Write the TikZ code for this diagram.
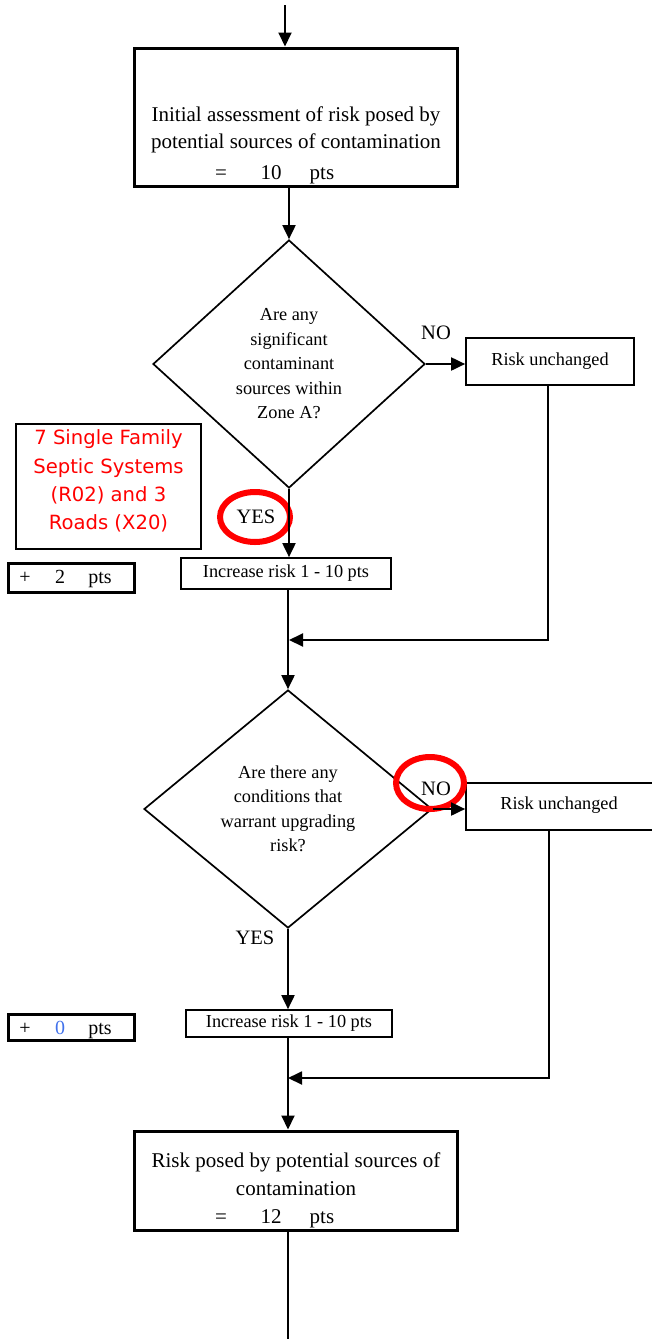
\documentclass[tikz,border=0pt]{standalone}
\usepackage{fontspec}
\setmainfont{Liberation Serif}
\newfontfamily\notesans{DejaVu Sans}
\usetikzlibrary{shapes.geometric,arrows.meta}
\definecolor{notered}{RGB}{255,0,0}
\definecolor{ptsblue}{RGB}{66,114,235}

\begin{document}
\begin{tikzpicture}[x=1pt,y=-1pt,
  line width=1.9pt,
  arr/.style={-{Triangle[length=14pt,width=13pt]}},
  bigbox/.style={draw, line width=3pt, inner sep=0pt},
  smallbox/.style={draw, line width=1.7pt, inner sep=0pt,
    font=\fontsize{18.3}{22}\selectfont},
  ptsbox/.style={draw, line width=3pt, inner sep=0pt},
  decision/.style={draw, diamond, line width=1.7pt, inner sep=0pt, align=center,
    font=\fontsize{18.3}{24.5}\selectfont},
  bigtext/.style={align=center, inner sep=0pt, font=\fontsize{21}{27.5}\selectfont},
  answer/.style={inner sep=0pt, font=\fontsize{20.5}{24}\selectfont},
  ptstext/.style={inner sep=0pt, anchor=base, font=\fontsize{20}{24}\selectfont},
  highlight/.style={draw=notered, line width=6pt, ellipse, inner sep=0pt}
]
\useasboundingbox (0,0) rectangle (652,1339);

% --- initial assessment ---
\coordinate (start) at (285,5);
\node[bigbox, minimum width=323pt, minimum height=138pt] (b1) at (295.5,117) {};
\node[bigtext] (b1t) at (296,130) {Initial assessment of risk posed by\\potential sources of contamination};
\node[bigtext, anchor=base] (b1eq) at (221,179) {=};
\node[bigtext, anchor=base] (b1n) at (271,179) {10};
\node[bigtext, anchor=base] (b1p) at (322,179) {pts};

% --- first decision ---
\node[decision, minimum width=272pt, minimum height=248pt] (d1) at (289,364)
  {Are any\\significant\\contaminant\\sources within\\Zone A?};
\node[answer] (no1) at (436,333) {NO};
\node[smallbox, minimum width=168pt, minimum height=47pt] (ru1) at (550,361.5) {Risk unchanged};

\node[draw, line width=1.7pt, inner sep=0pt, minimum width=185pt, minimum height=125pt] (note) at (108.5,486.5) {};
\node[inner sep=0pt, align=center, text=notered, font=\notesans\fontsize{19.6}{28.3}\selectfont] (notet) at (108.5,481)
  {7 Single Family\\Septic Systems\\(R02) and 3\\Roads (X20)};

\node[highlight, minimum width=70pt, minimum height=50pt] (yesmark) at (255,517) {};
\node[answer] (yes1) at (256,517) {YES};
\node[smallbox, minimum width=210pt, minimum height=31pt] (inc1) at (286,573.5) {Increase risk 1 - 10 pts};

\node[ptsbox, minimum width=126pt, minimum height=29pt] (p1) at (71,577.5) {};
\node[ptstext] (p1a) at (25,583) {+};
\node[ptstext] (p1b) at (60,583) {2};
\node[ptstext] (p1c) at (100,583) {pts};

\coordinate (m1) at (289,640);

% --- second decision ---
\node[decision, minimum width=288pt, minimum height=238pt] (d2) at (288,809)
  {Are there any\\conditions that\\warrant upgrading\\risk?};
\node[smallbox, minimum width=188pt, minimum height=47pt] (ru2) at (560,806.5) {};
\node[smallbox, draw=none] (ru2t) at (559,805) {Risk unchanged};
\node[answer] (no2) at (436,789) {NO};
\node[highlight, minimum width=68pt, minimum height=52pt] (nomark) at (430,783) {};

\node[answer] (yes2) at (255,938) {YES};
\node[smallbox, minimum width=206pt, minimum height=27pt] (inc2) at (289,1023.5) {Increase risk 1 - 10 pts};

\node[ptsbox, minimum width=126pt, minimum height=26pt] (p2) at (71,1027) {};
\node[ptstext] (p2a) at (25,1034) {+};
\node[ptstext, text=ptsblue] (p2b) at (60,1034) {0};
\node[ptstext] (p2c) at (100,1034) {pts};

\coordinate (m2) at (288,1078);

% --- final result ---
\node[bigbox, minimum width=323pt, minimum height=99pt] (b2) at (295.5,1180.5) {};
\node[bigtext] (b2t) at (296,1174) {Risk posed by potential sources of\\contamination};
\node[bigtext, anchor=base] (b2eq) at (221,1223) {=};
\node[bigtext, anchor=base] (b2n) at (271,1223) {12};
\node[bigtext, anchor=base] (b2p) at (322,1223) {pts};
\coordinate (end) at (288,1339);

% --- connectors ---
\draw[arr] (start) -- (start |- b1.north);
\draw[arr] (d1.north |- b1.south) -- (d1.north);
\draw[arr] (d1.east) -- (ru1.west |- d1.east);
\draw[arr] (d1.south) -- (d1.south |- inc1.north);
\draw[arr] (inc1.south -| d2.north) -- (d2.north);
\draw[arr] (548,385) |- (m1);
\draw[arr] (d2.east) -- (ru2.west |- d2.east);
\draw[arr] (d2.south) -- (d2.south |- inc2.north);
\draw[arr] (inc2.south -| d2.south) -- (d2.south |- b2.north);
\draw[arr] (549,830) |- (m2);
\draw (b2.south -| end) -- (end);
\end{tikzpicture}
\end{document}
